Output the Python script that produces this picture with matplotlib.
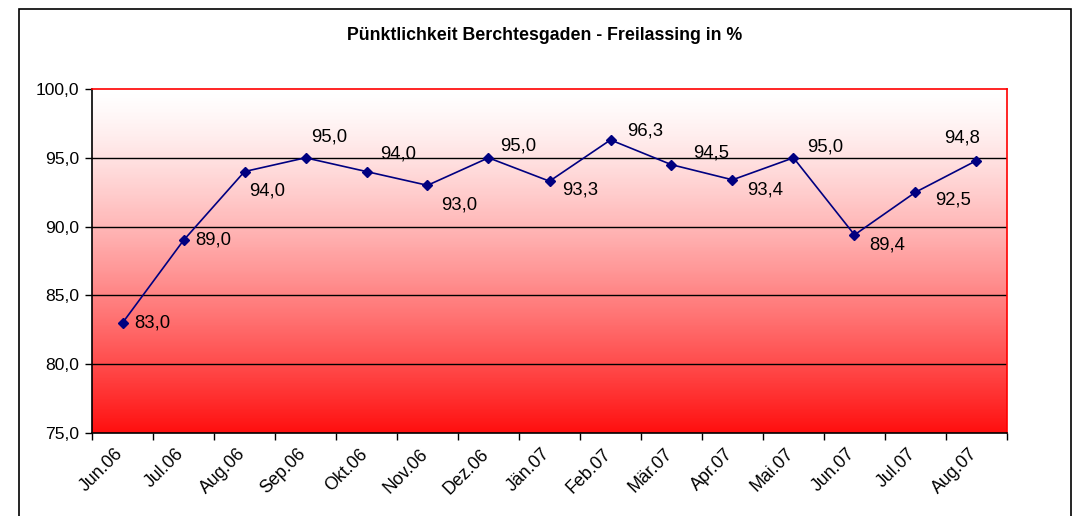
import numpy as np
import matplotlib
matplotlib.use('Agg')
import matplotlib.pyplot as plt
import matplotlib.transforms as mtransforms
from matplotlib.colors import LinearSegmentedColormap
from matplotlib.patches import Rectangle

plt.rcParams['font.family'] = ['Liberation Sans', 'DejaVu Sans']

# data
months = ['Jun.06', 'Jul.06', 'Aug.06', 'Sep.06', 'Okt.06', 'Nov.06', 'Dez.06', 'Jän.07',
          'Feb.07', 'Mär.07', 'Apr.07', 'Mai.07', 'Jun.07', 'Jul.07', 'Aug.07']
values = [83.0, 89.0, 94.0, 95.0, 94.0, 93.0, 95.0, 93.3, 96.3, 94.5, 93.4, 95.0, 89.4, 92.5, 94.8]
# label offsets (pixels) as placed in the original
label_dx = [12, 12, 5, 6, 14, 14, 12, 13, 17, 22, 15, 14, 15, 20, -14]
label_dy = [0, 0, -19, 21, 18, -20, 12, -9, 9, 12, -10, 11, -10, -8, 23]

W, H = 1072, 516
fig = plt.figure(figsize=(W / 100, H / 100), dpi=100)
fig.patch.set_facecolor('white')

# outer chart frame
fig.patches.append(Rectangle((19 / W, -0.05), (1071 - 19) / W, 1.05 - 9 / H,
                             transform=fig.transFigure, fill=False,
                             edgecolor='black', linewidth=1.2))

ax = fig.add_axes([92 / W, 1 - 433 / H, (1007 - 92) / W, (433 - 89) / H])

x = np.arange(len(months))
ax.set_xlim(-0.5, len(months) - 0.5)
ax.set_ylim(75, 100)

# white (top) -> red (bottom) gradient background
cmap = LinearSegmentedColormap.from_list('wr', ['#ffffff', '#ff1010'])
grad = (np.linspace(0, 1, 256) ** 1.3).reshape(-1, 1)
ax.imshow(grad, extent=[-0.5, len(months) - 0.5, 75, 100], aspect='auto', origin='upper',
          cmap=cmap, vmin=0, vmax=1, zorder=0, interpolation='bilinear')

for yv in [80, 85, 90, 95]:
    ax.axhline(yv, color='black', linewidth=1.0, zorder=1)

ax.plot(x, values, color='#000080', linewidth=1.2, marker='D', markersize=5.5,
        markerfacecolor='#000080', markeredgecolor='#000080', zorder=3)

for xi, v, dx, dy in zip(x, values, label_dx, label_dy):
    ax.annotate(f'{v:.1f}'.replace('.', ','), (xi, v), xytext=(dx, dy),
                textcoords='offset pixels', ha='left' if dx > 0 else 'center',
                va='center', fontsize=13.3, color='black', zorder=4)

ax.set_yticks([75, 80, 85, 90, 95, 100])
ax.set_yticklabels([f'{v:.1f}'.replace('.', ',') for v in [75, 80, 85, 90, 95, 100]],
                   fontsize=12.6)
ax.set_xticks(np.arange(len(months) + 1) - 0.5, minor=False)
ax.set_xticklabels([])
ax.set_xticks(x, minor=True)
ax.set_xticklabels(months, minor=True, rotation=45, ha='right', va='top',
                   rotation_mode='anchor', fontsize=12.8)
ax.tick_params(axis='x', which='minor', length=0, pad=9)
ax.tick_params(axis='x', which='major', length=5, width=1, direction='out')
ax.tick_params(axis='y', length=5, width=1, direction='out', pad=4)
shift = mtransforms.ScaledTranslation(-8 / 100, 0, fig.dpi_scale_trans)
for lab in ax.get_xticklabels(minor=True):
    lab.set_transform(lab.get_transform() + shift)

ax.spines['left'].set_color('black')
ax.spines['bottom'].set_color('black')
ax.spines['top'].set_color('red')
ax.spines['right'].set_color('red')
for s in ax.spines.values():
    s.set_linewidth(1.2)

fig.text(545 / W, 1 - 35 / H, 'Pünktlichkeit Berchtesgaden - Freilassing in %',
         ha='center', va='center', fontsize=12.8, fontweight='bold')

fig.savefig('out.png', dpi=100)
